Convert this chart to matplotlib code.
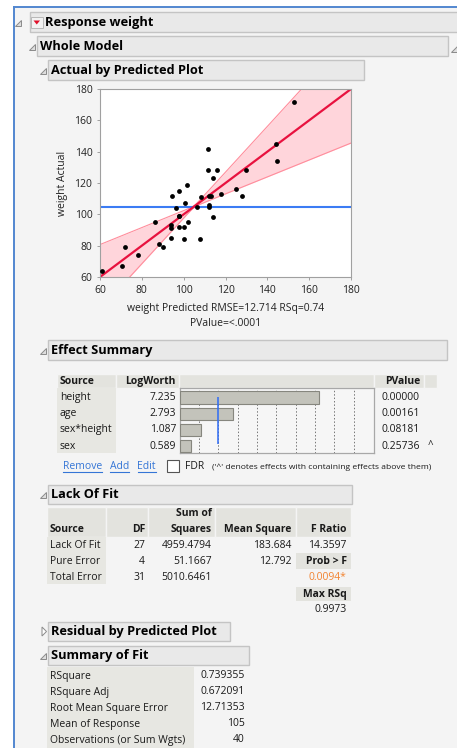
import matplotlib
matplotlib.use('Agg')
import matplotlib.pyplot as plt
import numpy as np
from matplotlib.patches import Rectangle, Polygon

plt.rcParams['font.family'] = ['Open Sans', 'DejaVu Sans']

# Actual by Predicted data
predicted = [60.8, 70.6, 72.0, 78.4, 86.2, 88.2, 90.2, 93.9, 94.0, 94.0,
             94.4, 96.3, 97.8, 97.8, 97.8, 100.0, 100.3, 100.5, 101.8, 102.2,
             106.2, 108.0, 108.3, 111.8, 111.8, 112.0, 112.2, 112.2, 113.3, 113.9,
             114.1, 116.0, 117.8, 124.8, 127.7, 129.6, 144.0, 144.8, 152.6, 97.8]
actual = [64, 67, 79, 74, 95, 81, 79, 93, 91, 85,
          112, 104, 115, 99, 92, 84, 92, 107, 119, 95,
          105, 84, 111, 142, 128, 112, 106, 105, 112, 123,
          98, 128, 113, 116, 112, 128, 145, 134, 172, 99]
mean_response = 105
band_slope = 0.46
axis_ticks = [60, 80, 100, 120, 140, 160, 180]

# Effect Summary
effects = ['height', 'age', 'sex*height', 'sex']
logworth = [7.235, 2.793, 1.087, 0.589]
pvalues = ['0.00000', '0.00161', '0.08181', '0.25736']
ref_logworth = 2

# Lack Of Fit
lof_source = ['Lack Of Fit', 'Pure Error', 'Total Error']
lof_df = ['27', '4', '31']
lof_ss = ['4959.4794', '51.1667', '5010.6461']
lof_ms = ['183.684', '12.792', '']
f_ratio = '14.3597'
prob_f = '0.0094*'
max_rsq = '0.9973'

# Summary of Fit
fit_labels = ['RSquare', 'RSquare Adj', 'Root Mean Square Error',
              'Mean of Response', 'Observations (or Sum Wgts)']
fit_values = ['0.739355', '0.672091', '12.71353', '105', '40']

BG = '#f4f4f4'
HDR = '#e9e9e9'
CELL = '#e3e3de'
SRC = '#e7e7e2'
W, H = 457, 748

fig = plt.figure(figsize=(W / 100, H / 100), dpi=100)
fig.patch.set_facecolor(BG)
bg = fig.add_axes([0, 0, 1, 1])
bg.set_xlim(0, W)
bg.set_ylim(H, 0)
bg.axis('off')


def px_axes(x0, y0, x1, y1):
    return fig.add_axes([x0 / W, 1 - y1 / H, (x1 - x0) / W, (y1 - y0) / H])


def txt(x, y, s, ha='left', bold=False, size=7.5, color='#1a1a1a'):
    return bg.text(x, y, s, ha=ha, va='center', fontsize=size, color=color,
                   fontweight='bold' if bold else 'normal')


def rect(x0, y0, x1, y1, fc, ec='none', lw=0.8):
    bg.add_patch(Rectangle((x0, y0), x1 - x0, y1 - y0, fc=fc, ec=ec, lw=lw))


def tri(x, y):
    bg.add_patch(Polygon([(x, y + 3), (x + 6, y + 3), (x + 6, y - 3)],
                         closed=True, fc='#dedede', ec='#8a8a8a', lw=0.7))


def header(x0, y0, x1, y1, label, size=9.2):
    rect(x0, y0, x1, y1, HDR, '#c4c4c4', 1.0)
    txt(x0 + 3, (y0 + y1) / 2, label, bold=True, size=size, color='#000000')
    tri(x0 - 8, (y0 + y1) / 2 + 1)


# outer frame
rect(0, 0, W, 6.5, 'white')
rect(0, 0, 14, H, 'white')
bg.plot([14, W], [6.5, 6.5], color='#5287d0', lw=1.4)
bg.plot([14, 14], [6.5, H], color='#5287d0', lw=1.4)

# report headers
rect(30, 12, W + 2, 32, HDR, '#c4c4c4', 1.0)
tri(15, 23)
rect(31, 16.5, 42.5, 28, '#f2f2f2', '#b8b8b8', 0.7)
bg.add_patch(Polygon([(33.5, 20.5), (40, 20.5), (36.75, 24.5)], closed=True,
                     fc='#e0102a', ec='none'))
txt(45, 22, 'Response weight', bold=True, size=9.3, color='#000000')
header(37, 36, 448, 56, 'Whole Model')
tri(451, 49)
header(48, 60, 364, 80, 'Actual by Predicted Plot')

# Actual by Predicted plot
ax = px_axes(100, 89, 351, 277)
ax.set_facecolor('white')
xs = np.linspace(axis_ticks[0], axis_ticks[-1], 300)
half = np.sqrt(0.6 ** 2 + (band_slope * (xs - mean_response)) ** 2)
ax.fill_between(xs, xs - half, xs + half, color='#ffd5db', lw=0)
ax.plot(xs, xs + half, color='#ff8d9c', lw=0.8)
ax.plot(xs, xs - half, color='#ff8d9c', lw=0.8)
ax.axhline(mean_response, color='#3b7cf4', lw=1.5)
ax.plot(xs, xs, color='#e8123f', lw=1.6)
ax.scatter(predicted, actual, s=12, c='black', zorder=5, clip_on=False, lw=0)
ax.set_xlim(axis_ticks[0], axis_ticks[-1])
ax.set_ylim(axis_ticks[0], axis_ticks[-1])
ax.set_xticks(axis_ticks)
ax.set_yticks(axis_ticks)
for s in ax.spines.values():
    s.set_color('#a0a0a0')
    s.set_linewidth(0.8)
ax.tick_params(labelsize=7.5, colors='#a0a0a0', labelcolor='#222222',
               length=2.5, width=0.7, pad=3)
ax.set_ylabel('weight Actual', fontsize=7.5, color='#222222', labelpad=5)
ax.set_xlabel('weight Predicted RMSE=12.714 RSq=0.74\nPValue=<.0001',
              fontsize=7.5, color='#222222', labelpad=5, linespacing=1.55)

# Effect Summary
header(48, 340, 447, 360, 'Effect Summary')
for x0, x1 in [(57, 116), (116, 179), (179, 374), (374, 424), (424, 437)]:
    rect(x0, 374, x1, 388, CELL, BG, 1.0)
rect(57, 388, 116, 452.5, SRC)
txt(60, 381, 'Source', bold=True)
txt(176, 381, 'LogWorth', ha='right', bold=True)
txt(420, 381, 'PValue', ha='right', bold=True)
for i, (e, lw_, p) in enumerate(zip(effects, logworth, pvalues)):
    y = 397.7 + i * 16.1
    txt(60, y, e)
    txt(176, y, f'{lw_:.3f}', ha='right')
    txt(381, y, p)
txt(428, 397.7 + 3 * 16.1 - 1, '^', size=7)

bax = px_axes(179.5, 388, 374, 452.5)
bax.set_facecolor('#f6f6f6')
bax.barh(range(len(effects)), logworth, height=0.78, color='#c3c3bb',
         edgecolor='#86867e', lw=0.8, zorder=3)
bax.set_xlim(0, 10.06)
bax.set_ylim(3.4, -0.6)
bax.set_xticks(range(1, 10))
bax.set_yticks([])
bax.grid(True, axis='x', ls=(0, (1.5, 2)), color='#777777', lw=0.7, zorder=1)
bax.tick_params(length=0, labelbottom=False)
bax.vlines(ref_logworth, -0.05, 2.9, color='#2f6cf5', lw=1.1, zorder=4)
for s in bax.spines.values():
    s.set_color('#a8a8a8')
    s.set_linewidth(0.9)

link_items = [txt(63, 466, 'Remove', color='#3475d6'),
              txt(110, 466, 'Add', color='#3475d6'),
              txt(137.5, 466, 'Edit', color='#3475d6')]
rect(167, 460, 179, 472, 'white', '#555555', 0.8)
txt(185, 466, 'FDR')
txt(211.5, 467, "('^' denotes effects with containing effects above them)", size=6.1)

# Lack Of Fit
header(48, 484.7, 352, 504, 'Lack Of Fit')
for x0, x1 in [(47, 106), (106, 148), (148, 215), (215, 296), (296, 351)]:
    rect(x0, 506.7, x1, 536.5, CELL, BG, 1.0)
rect(47, 536.5, 106, 584, SRC)
txt(50, 529.5, 'Source', bold=True)
txt(145, 529.5, 'DF', ha='right', bold=True)
txt(211.7, 514, 'Sum of', ha='right', bold=True)
txt(211.7, 529.5, 'Squares', ha='right', bold=True)
txt(291.7, 529.5, 'Mean Square', ha='right', bold=True)
txt(346.7, 529.5, 'F Ratio', ha='right', bold=True)
for i in range(len(lof_source)):
    y = 546 + i * 16
    txt(50, y, lof_source[i])
    txt(145, y, lof_df[i], ha='right')
    txt(211.7, y, lof_ss[i], ha='right')
    txt(291.7, y, lof_ms[i], ha='right')
txt(346.7, 546, f_ratio, ha='right')
rect(296, 553, 351, 569, CELL)
txt(346.7, 562, 'Prob > F', ha='right', bold=True)
txt(346.7, 578, prob_f, ha='right', color='#f28330')
rect(296, 586.5, 351, 601, CELL)
txt(346.7, 594, 'Max RSq', ha='right', bold=True)
txt(346.7, 610, max_rsq, ha='right')

# Residual by Predicted Plot (collapsed)
rect(48, 621.7, 230, 641, HDR, '#c4c4c4', 1.0)
txt(51, 631.5, 'Residual by Predicted Plot', bold=True, size=9.2, color='#000000')
bg.add_patch(Polygon([(42, 627), (42, 636), (46.5, 631.5)], closed=True,
                     fc='white', ec='#8a8a8a', lw=0.7))

# Summary of Fit
header(48, 645.7, 249, 665, 'Summary of Fit')
rect(47, 666.7, 194, H, SRC)
for i, (lab, val) in enumerate(zip(fit_labels, fit_values)):
    y = 676 + i * 16
    txt(50, y, lab)
    txt(245, y, val, ha='right')

# underline the links
fig.canvas.draw()
r = fig.canvas.get_renderer()
inv = bg.transData.inverted()
for t in link_items:
    bb = t.get_window_extent(r)
    (xa, _), (xb, _) = inv.transform([(bb.x0, bb.y0), (bb.x1, bb.y0)])
    bg.plot([xa, xb], [471.5, 471.5], color='#3475d6', lw=0.8)

fig.savefig('out.png', dpi=100, facecolor=fig.get_facecolor())
